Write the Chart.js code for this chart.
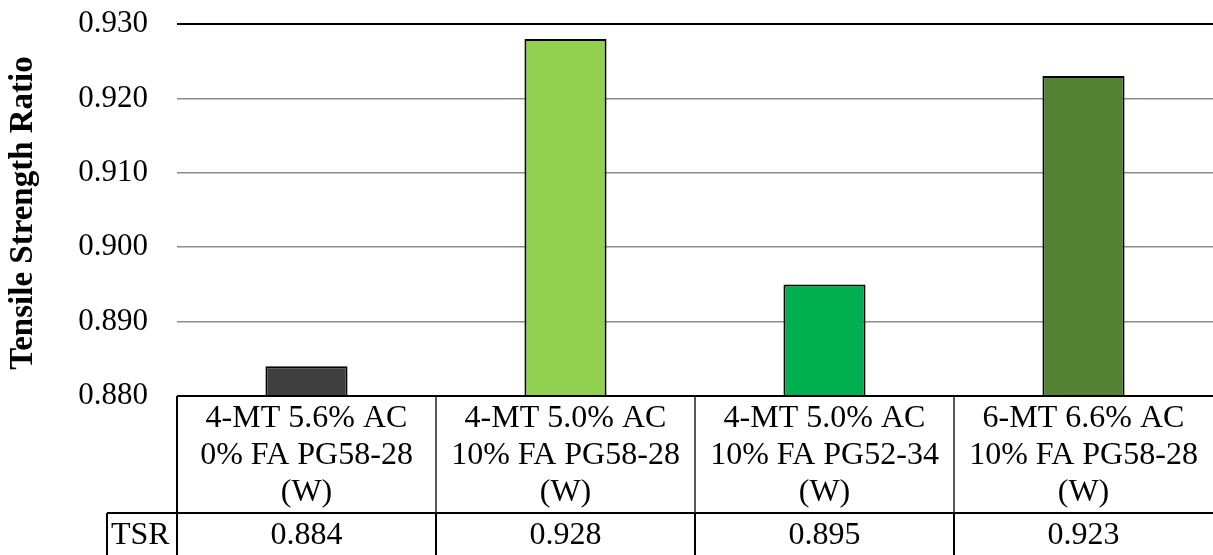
<!DOCTYPE html>
<html>
<head>
<meta charset="utf-8">
<script src="https://cdn.jsdelivr.net/npm/chart.js@4.4.1/dist/chart.umd.min.js"></script>
<style>
  html, body { margin: 0; padding: 0; background: #ffffff; }
  #wrap { width: 1213px; height: 555px; position: relative; }
</style>
</head>
<body>
<div id="wrap"><canvas id="chart" width="1213" height="555"></canvas></div>
<script>
// Mix designs (one line per row of the label cell)
const categories = [
  ['4-MT 5.6% AC', '0% FA PG58-28', '(W)'],
  ['4-MT 5.0% AC', '10% FA PG58-28', '(W)'],
  ['4-MT 5.0% AC', '10% FA PG52-34', '(W)'],
  ['6-MT 6.6% AC', '10% FA PG58-28', '(W)']
];
// Tensile strength ratio per mix
const tsrValues = [0.884, 0.928, 0.895, 0.923];
const seriesName = 'TSR';
const barColors = ['#404040', '#92D050', '#00B050', '#548235'];
const yTicks = [0.880, 0.890, 0.900, 0.910, 0.920, 0.930];
const yTitle = 'Tensile Strength Ratio';

const FONT = '"Liberation Serif", "Times New Roman", serif';
const TICK_FS = 31;
const TABLE_FS = 32;
const TITLE_FS = 33;

// Data table under the plot, plus the rotated axis title
const dataTable = {
  id: 'dataTable',
  afterDraw(chart) {
    const ctx = chart.ctx;
    const area = chart.chartArea;
    const x = chart.scales.x;
    const top = area.bottom;
    const rowSplit = 513;
    const bottom = 555;
    const catW = (area.right - area.left) / categories.length;

    ctx.save();
    ctx.fillStyle = '#000';
    ctx.textAlign = 'center';
    ctx.textBaseline = 'middle';
    ctx.font = TABLE_FS + 'px ' + FONT;

    categories.forEach((lines, i) => {
      const cx = x.getPixelForValue(i);
      lines.forEach((ln, j) => {
        ctx.fillText(ln, cx, 419 + j * 37);
      });
      ctx.fillText(tsrValues[i].toFixed(3), cx, 536);
    });
    ctx.textAlign = 'left';
    ctx.fillText(seriesName, 111, 536);

    // grid of the table
    ctx.strokeStyle = '#000';
    ctx.lineWidth = 2;
    ctx.beginPath();
    ctx.moveTo(107, rowSplit); ctx.lineTo(area.right, rowSplit);
    ctx.moveTo(107, rowSplit); ctx.lineTo(107, bottom);
    ctx.moveTo(area.left, top); ctx.lineTo(area.left, bottom);
    for (let i = 1; i < categories.length; i++) {
      const lx = Math.round(area.left + i * catW);
      ctx.moveTo(lx, rowSplit); ctx.lineTo(lx, bottom);
    }
    ctx.stroke();
    ctx.lineWidth = 1.5;
    ctx.strokeStyle = '#222';
    ctx.beginPath();
    for (let i = 1; i < categories.length; i++) {
      const lx = Math.round(area.left + i * catW);
      ctx.moveTo(lx, top); ctx.lineTo(lx, rowSplit);
    }
    ctx.stroke();

    // axis line at the bottom of the plot and the top border
    ctx.lineWidth = 2;
    ctx.strokeStyle = '#000';
    ctx.beginPath();
    ctx.moveTo(area.left, top); ctx.lineTo(area.right, top);
    ctx.moveTo(area.left, area.top); ctx.lineTo(area.right, area.top);
    ctx.stroke();

    // rotated y-axis title
    ctx.translate(23, (area.top + area.bottom) / 2 + 3);
    ctx.rotate(-Math.PI / 2);
    ctx.textAlign = 'center';
    ctx.textBaseline = 'middle';
    ctx.font = 'bold ' + TITLE_FS + 'px ' + FONT;
    ctx.fillText(yTitle, 0, 0);
    ctx.restore();
  }
};

new Chart(document.getElementById('chart'), {
  type: 'bar',
  data: {
    labels: categories.map(c => c.join(' ')),
    datasets: [{
      label: seriesName,
      data: tsrValues,
      backgroundColor: barColors,
      borderColor: '#000',
      borderWidth: 2,
      borderSkipped: false,
      categoryPercentage: 1,
      barPercentage: 0.317
    }]
  },
  options: {
    responsive: false,
    animation: false,
    devicePixelRatio: 1,
    layout: { padding: { left: 0, right: 0, top: 24, bottom: 159 } },
    plugins: { legend: { display: false }, tooltip: { enabled: false } },
    scales: {
      x: {
        grid: { display: false, drawTicks: false },
        border: { display: false },
        ticks: { display: false },
        afterFit(scale) { scale.height = 0; }
      },
      y: {
        min: 0.88,
        max: 0.93,
        afterBuildTicks(scale) { scale.ticks = yTicks.map(v => ({ value: v })); },
        grid: { color: '#8c8c8c', lineWidth: 1.5, drawTicks: false },
        border: { display: false },
        ticks: {
          padding: 29,
          color: '#000',
          font: { family: FONT, size: TICK_FS },
          callback: v => Number(v).toFixed(3)
        },
        afterFit(scale) {
          scale.width = 177;
          scale.paddingTop = 0;
          scale.paddingBottom = 0;
        }
      }
    }
  },
  plugins: [dataTable]
});
</script>
</body>
</html>
